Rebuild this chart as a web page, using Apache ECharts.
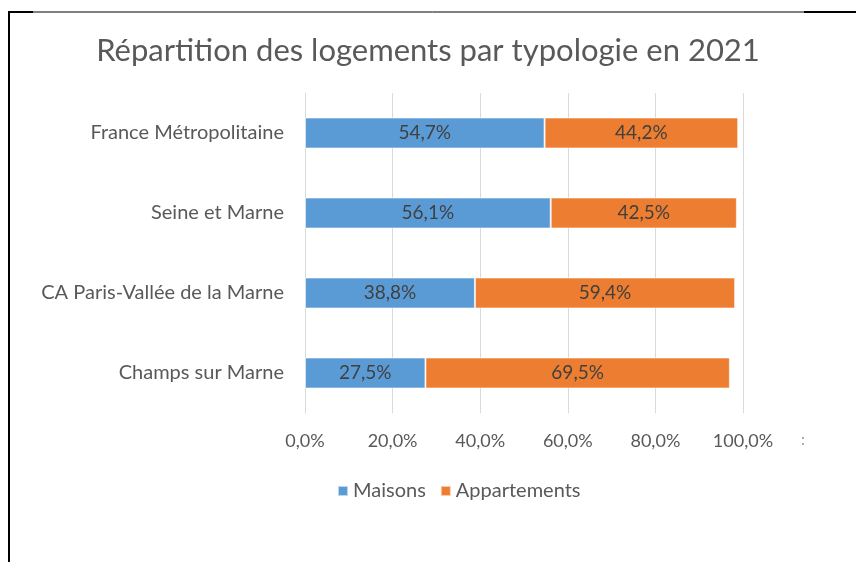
<!DOCTYPE html>
<html><head><meta charset="utf-8">
<script src="https://cdn.jsdelivr.net/npm/echarts@6/dist/echarts.min.js"></script>
<style>html,body{margin:0;padding:0;background:#fff}#c{width:856px;height:562px}</style>
</head><body><div id="c"></div>
<script>
const categories = ['France Métropolitaine', 'Seine et Marne', 'CA Paris-Vallée de la Marne', 'Champs sur Marne'];
const maisons = [54.7, 56.1, 38.8, 27.5];
const appartements = [44.2, 42.5, 59.4, 69.5];
const seriesNames = ['Maisons', 'Appartements'];
const titleText = 'Répartition des logements par typologie en 2021';

const FONT = 'Lato';
const fmt = v => v.toFixed(1).replace('.', ',') + '%';
const chart = echarts.init(document.getElementById('c'), null, {renderer: 'canvas'});
const labelStyle = {show: true, position: 'inside', color: '#404040', fontFamily: FONT, fontSize: 19,
  formatter: p => fmt(p.value)};
chart.setOption({
  backgroundColor: '#fff',
  animation: false,
  title: {text: titleText, left: 'center', top: 30,
    textStyle: {fontFamily: FONT, fontSize: 31, fontWeight: 'normal', color: '#595959'}},
  legend: {data: seriesNames, top: 476, left: 332, itemWidth: 10, itemHeight: 10, itemGap: 14,
    icon: 'rect', textStyle: {fontFamily: FONT, fontSize: 20, color: '#595959'}},
  grid: {left: 305, right: 113, top: 93, bottom: 149, containLabel: false},
  xAxis: {type: 'value', min: 0, max: 100, interval: 20,
    axisLabel: {formatter: v => fmt(v), fontFamily: FONT, fontSize: 18, color: '#595959', margin: 19},
    axisLine: {show: false}, axisTick: {show: false},
    splitLine: {show: true, lineStyle: {color: '#D9D9D9', width: 1}}},
  yAxis: {type: 'category', data: categories, inverse: true,
    axisLine: {show: true, lineStyle: {color: '#D9D9D9'}}, axisTick: {show: false},
    axisLabel: {fontFamily: FONT, fontSize: 20, color: '#595959', margin: 21}},
  series: [
    {name: seriesNames[0], type: 'bar', stack: 't', data: maisons, barWidth: 31,
      itemStyle: {color: '#5B9BD5', borderColor: 'rgba(255,255,255,0.6)', borderWidth: 1}, label: labelStyle},
    {name: seriesNames[1], type: 'bar', stack: 't', data: appartements, barWidth: 31,
      itemStyle: {color: '#ED7D31', borderColor: 'rgba(255,255,255,0.6)', borderWidth: 1}, label: labelStyle}
  ],
  graphic: [
    {type: 'line', shape: {x1: 9, y1: 12, x2: 856, y2: 12}, style: {stroke: '#000', lineWidth: 1}},
    {type: 'line', shape: {x1: 8, y1: 12, x2: 33, y2: 12}, style: {stroke: '#000', lineWidth: 2}},
    {type: 'line', shape: {x1: 804, y1: 12, x2: 856, y2: 12}, style: {stroke: '#000', lineWidth: 2}},
    {type: 'line', shape: {x1: 9, y1: 11, x2: 9, y2: 562}, style: {stroke: '#000', lineWidth: 2}},
    {type: 'text', left: 801, top: 432, style: {text: ':', fill: '#9a9a9a', font: '16px ' + FONT}}
  ]
});
</script></body></html>
